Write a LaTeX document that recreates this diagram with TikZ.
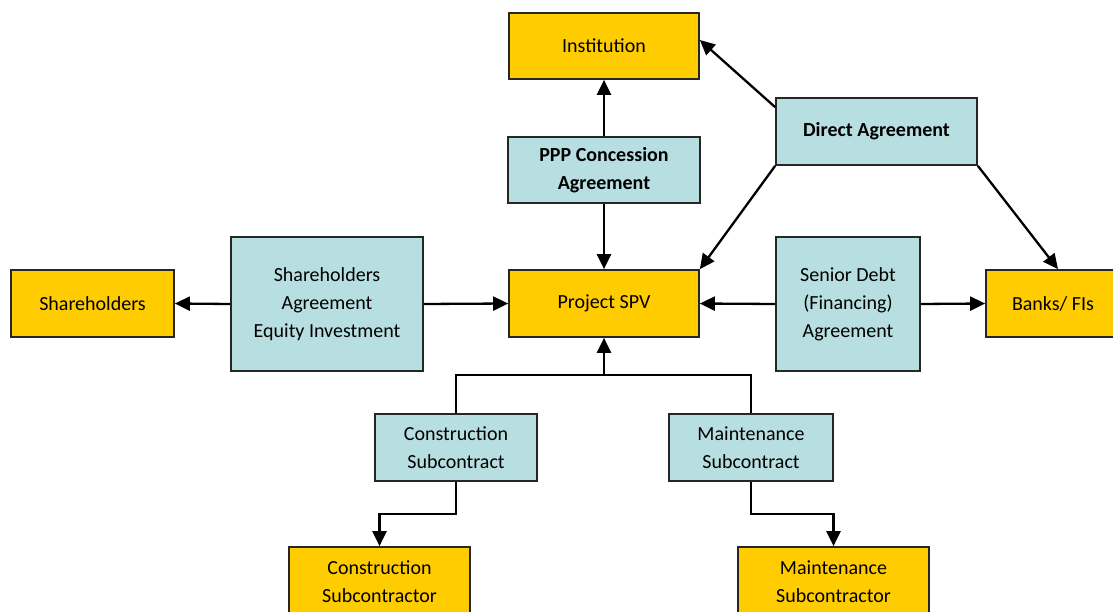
\documentclass[tikz,border=0pt]{standalone}
\usepackage{fontspec}
\setmainfont{Carlito}
\usetikzlibrary{arrows.meta,calc}
\definecolor{boxyellow}{HTML}{FFCC00}
\definecolor{boxblue}{HTML}{B7DEE1}
\tikzset{
  base/.style={draw=black!85, line width=1.7pt, inner sep=0pt, align=center,
    font={\fontsize{20}{28}\selectfont}},
  party/.style={base, fill=boxyellow},
  deal/.style={base, fill=boxblue},
  conn/.style={line width=2.3pt, black},
  arr/.style={conn, -{Triangle[length=15pt,width=14pt]}},
}
\begin{document}
\begin{tikzpicture}[x=1pt,y=-1pt]
\useasboundingbox (0,0) rectangle (1113,612);
\clip (0,0) rectangle (1113,612);
% nodes
\node[party, minimum width=190pt, minimum height=66pt] (inst) at (604,46) {Institution};
\node[deal, minimum width=192pt, minimum height=66pt] (ppp) at (604,170) {\textbf{PPP Concession}\\\textbf{Agreement}};
\node[deal, minimum width=201pt, minimum height=67pt] (da) at (876.5,131.5) {\textbf{Direct Agreement}};
\node[party, minimum width=190pt, minimum height=67pt] (spv) at (604,303.5) {Project SPV};
\node[party, minimum width=163pt, minimum height=67pt] (sh) at (92.5,303.5) {Shareholders};
\node[deal, minimum width=192pt, minimum height=134pt] (sha) at (327,304) {Shareholders\\Agreement\\Equity Investment};
\node[deal, minimum width=144pt, minimum height=134pt] (sd) at (848,304) {Senior Debt\\(Financing)\\Agreement};
\node[party, minimum width=134pt, minimum height=67pt] (banks) at (1053,303.5) {Banks/ FIs};
\node[deal, minimum width=162pt, minimum height=67pt] (cs) at (456,447.5) {Construction\\Subcontract};
\node[deal, minimum width=164pt, minimum height=67pt] (ms) at (751,447.5) {Maintenance\\Subcontract};
\node[party, minimum width=181pt, minimum height=70pt] (csr) at (379.5,582) {Construction\\Subcontractor};
\node[party, minimum width=191pt, minimum height=70pt] (msr) at (833.5,582) {Maintenance\\Subcontractor};
% junction coordinates
\coordinate (j) at (604,375);
\coordinate (k) at (0,514);
% connectors
\draw[arr] (ppp.north) -- (inst.south);
\draw[arr] (ppp.south) -- (spv.north);
\draw[arr] ([yshift=-10pt]da.north west) -- ([yshift=6pt]inst.east);
\draw[arr] (da.south west) -- (spv.north east);
\draw[arr] (da.south east) -- ([xshift=5pt]banks.north);
\draw[arr] (sha.west) -- (sh.east);
\draw[arr] (sha.east) -- (spv.west);
\draw[arr] (sd.west) -- (spv.east);
\draw[arr] (sd.east) -- (banks.west);
\draw[conn] (cs.north) |- (ms.north |- j) -- (ms.north);
\draw[arr] (spv.south |- j) -- (spv.south);
\draw[arr] (cs.south) |- (csr.north |- k) -- (csr.north);
\draw[arr] (ms.south) |- (msr.north |- k) -- (msr.north);
\end{tikzpicture}
\end{document}
